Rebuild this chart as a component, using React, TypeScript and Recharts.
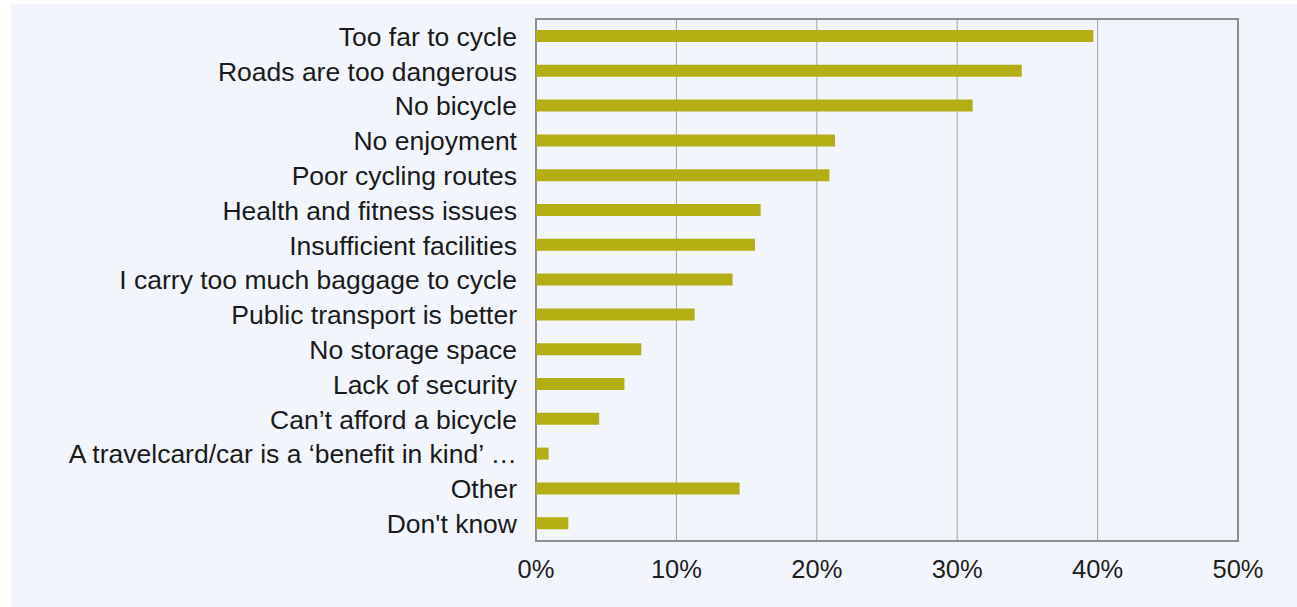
import React from 'react'
import { BarChart, Bar, XAxis, YAxis, CartesianGrid, ReferenceArea } from 'recharts'

const reasons = [
  'Too far to cycle',
  'Roads are too dangerous',
  'No bicycle',
  'No enjoyment',
  'Poor cycling routes',
  'Health and fitness issues',
  'Insufficient facilities',
  'I carry too much baggage to cycle',
  'Public transport is better',
  'No storage space',
  'Lack of security',
  'Can\u2019t afford a bicycle',
  'A travelcard/car is a \u2018benefit in kind\u2019 \u2026',
  'Other',
  "Don't know",
]
const shares = [39.7, 34.6, 31.1, 21.3, 20.9, 16.0, 15.6, 14.0, 11.3, 7.5, 6.3, 4.5, 0.9, 14.5, 2.3]
const pctTicks = [0, 10, 20, 30, 40, 50]

const data = reasons.map((reason, i) => ({ reason, share: shares[i] }))

const font = '"Liberation Sans", Arial, sans-serif'

export default function App() {
  return (
    <div style={{ position: 'absolute', left: 0, top: 0, width: 1297, height: 607, background: '#fff' }}>
      <div style={{ position: 'absolute', left: 11, top: 4, width: 1286, height: 603, background: '#f2f6fc' }} />
      <div style={{ position: 'absolute', left: 0, top: 0 }}>
        <BarChart
          width={1297}
          height={607}
          data={data}
          layout="vertical"
          margin={{ top: 19, right: 59, bottom: 16, left: 0 }}
          barCategoryGap={0}
        >
          <CartesianGrid horizontal={false} stroke="#a3a3a3" strokeWidth={1} />
          <XAxis
            type="number"
            domain={[0, 50]}
            ticks={pctTicks}
            tickFormatter={(v: number) => `${v}%`}
            axisLine={false}
            tickLine={false}
            height={50}
            tickSize={6}
            tickMargin={13}
            tick={{ fontSize: 25.5, fill: '#1e1e1e', fontFamily: font }}
            interval={0}
          />
          <YAxis
            type="category"
            dataKey="reason"
            width={536}
            axisLine={false}
            tickLine={false}
            tickSize={6}
            tickMargin={13}
            interval={0}
            tick={{ fontSize: 26.5, fill: '#1a1a1a', fontFamily: font }}
          />
          <Bar dataKey="share" fill="#b4ad14" barSize={12} isAnimationActive={false} />
          <ReferenceArea x1={0} x2={50} fill="none" stroke="#8e8e8e" strokeWidth={2} ifOverflow="extendDomain" />
        </BarChart>
      </div>
    </div>
  )
}
